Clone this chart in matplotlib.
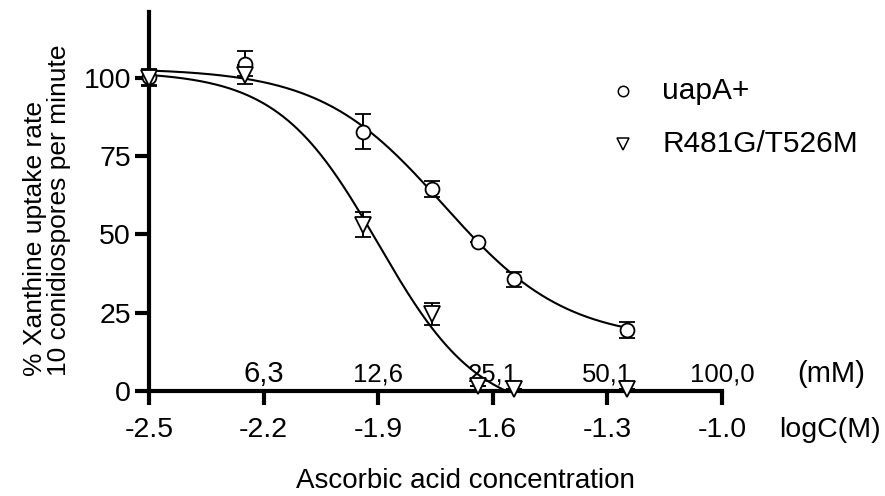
import numpy as np
import matplotlib
matplotlib.use("Agg")
import matplotlib.pyplot as plt

plt.rcParams["font.family"] = ["Liberation Sans", "DejaVu Sans"]

# log concentrations (M) of the measured points
log_conc = [-2.5, -2.25, -1.94, -1.76, -1.64, -1.545, -1.25]

# uapA+ (circles)
wt_rate = [100.3, 104.5, 82.7, 64.4, 47.4, 35.6, 19.5]
wt_err = [2.5, 4.0, 5.6, 2.6, 0.0, 2.5, 2.5]

# R481G/T526M (triangles)
mut_rate = [100.0, 101.0, 53.0, 24.5, 1.5, 0.5, 0.5]
mut_err = [2.5, 3.0, 4.0, 3.5, 0.0, 0.0, 0.0]

# fitted dose-response parameters: top, bottom, logIC50, hill slope
wt_fit = (103.0, 16.0, -1.73, 2.7)
mut_fit = (102.0, -8.0, -1.90, 3.3)

x_ticks = [-2.5, -2.2, -1.9, -1.6, -1.3, -1.0]
x_ticklabels = ["-2.5", "-2.2", "-1.9", "-1.6", "-1.3", "-1.0"]
y_ticks = [0, 25, 50, 75, 100]
mm_labels = ["6,3", "12,6", "25,1", "50,1", "100,0"]


def dose_response(x, top, bottom, logic50, hill):
    return bottom + (top - bottom) / (1 + 10 ** ((x - logic50) * hill))


fig = plt.figure(figsize=(8.85, 4.96), dpi=100)
ax = fig.add_axes([149 / 885, 105 / 496, 573 / 885, 376 / 496])

xs = np.linspace(log_conc[0], log_conc[-1], 300)
ax.plot(xs, dose_response(xs, *wt_fit), color="black", lw=1.5, zorder=2)
ax.plot(xs, dose_response(xs, *mut_fit), color="black", lw=1.5, zorder=2)

mk = dict(color="black", mfc="white", mec="black", mew=1.3,
          ecolor="black", elinewidth=1.4, capsize=6, capthick=1.4,
          linestyle="none", clip_on=False, zorder=3)
ax.errorbar(log_conc, wt_rate, yerr=wt_err, marker="o", ms=10, **mk)
ax.errorbar(log_conc, mut_rate, yerr=mut_err, marker="v", ms=11.5, **mk)

ax.set_xlim(-2.5, -1.0)
ax.set_ylim(0, 120)
ax.spines["top"].set_visible(False)
ax.spines["right"].set_visible(False)
for s in ("left", "bottom"):
    ax.spines[s].set_linewidth(3)
ax.spines["left"].set_bounds(0, 121)
ax.set_xticks(x_ticks)
ax.set_xticklabels(x_ticklabels)
ax.set_yticks(y_ticks)
ax.tick_params(axis="both", length=10, width=3, labelsize=20.5)
ax.tick_params(axis="x", pad=9)
ax.tick_params(axis="y", pad=3)

# concentration labels in mM above the axis
for xt, lab in zip(x_ticks[1:], mm_labels):
    fs = 21 if lab == "6,3" else 18.5
    ax.text(xt, 3, lab, ha="center", va="baseline", fontsize=fs)
ax.text(-0.715, 3, "(mM)", ha="center", va="baseline", fontsize=21, clip_on=False)
ax.text(-0.717, (391 - 437) / 3.12, "logC(M)", ha="center", va="baseline",
        fontsize=20.5, clip_on=False)

# legend drawn by hand
ax.plot([-1.259], [95.8], marker="o", ms=7.5, mfc="white", mec="black", mew=1.1, clip_on=False)
ax.plot([-1.259], [78.8], marker="v", ms=9, mfc="white", mec="black", mew=1.1, clip_on=False)
ax.text(-1.157, 95.8, "uapA+", va="center", fontsize=21.5)
ax.text(-1.157, 78.8, "R481G/T526M", va="center", fontsize=21.5, clip_on=False)

fig.text(465 / 885, 8 / 496, "Ascorbic acid concentration",
         ha="center", va="baseline", fontsize=20)
fig.text(47 / 885, 1 - 210 / 496, "% Xanthine uptake rate\n10 conidiospores per minute",
         ha="center", va="center", rotation=90, fontsize=19, linespacing=1.05,
         multialignment="left")

fig.savefig("out.png", dpi=100)
